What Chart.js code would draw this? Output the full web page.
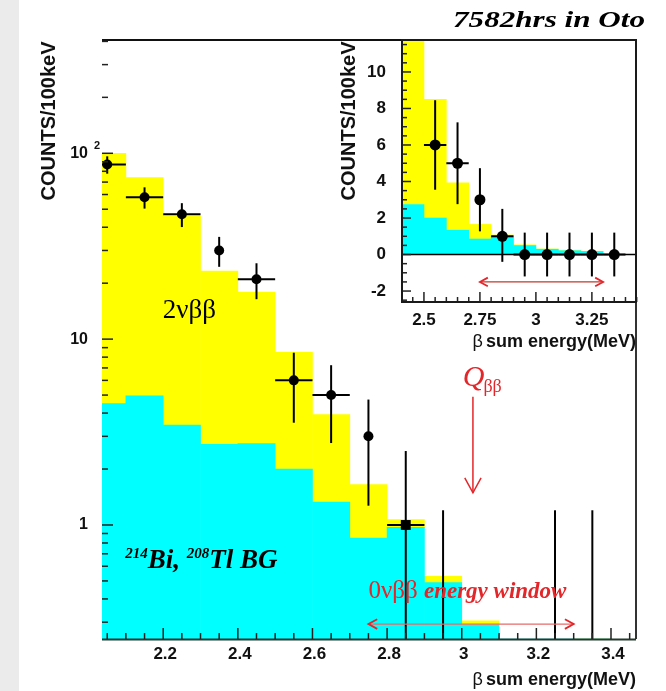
<!DOCTYPE html>
<html>
<head>
<meta charset="utf-8">
<script src="https://cdn.jsdelivr.net/npm/chart.js@4.4.0/dist/chart.umd.min.js"></script>
<style>
  html, body { margin: 0; padding: 0; background: #fff; }
  #wrap { position: relative; width: 666px; height: 691px; background: #fff; overflow: hidden; }
  #strip { position: absolute; left: 0; top: 0; width: 19px; height: 691px; background: #ebebeb; }
  #main { position: absolute; left: 0; top: 0; }
  #inset { position: absolute; left: 336px; top: 32px; }
</style>
</head>
<body>
<div id="wrap">
  <div id="strip"></div>
  <canvas id="main" width="666" height="691"></canvas>
  <canvas id="inset" width="310" height="320"></canvas>
</div>
<script>
// bin centres, 100 keV bins (MeV)
var binCenters = [2.05, 2.15, 2.25, 2.35, 2.45, 2.55, 2.65, 2.75, 2.85, 2.95, 3.05, 3.15, 3.25, 3.35];
// 214Bi + 208Tl background expectation per bin
var bgCounts = [4.5, 4.95, 3.45, 2.72, 2.74, 2.0, 1.33, 0.85, 0.97, 0.49, 0.29, 0.21, 0.17, 0];
// 2vbb expectation, stacked on top of the background
var twoNuCounts = [95.5, 69, 42.5, 20.5, 15.2, 6.5, 2.6, 0.8, 0.1, 0.04, 0.015, 0.01, 0.01, 0];
// observed events
var dataCounts = [87, 58, 47, 30, 21, 6, 5, 3, 1, 0, 0, 0, 0, 0];
var errUp = [9.3, 7.6, 6.9, 5.5, 4.6, 2.45, 2.24, 1.73, 1.5, 1.2, 1.2, 1.2, 1.2, 1.2];
var errDown = [9.3, 7.6, 6.9, 5.5, 4.6, 2.45, 2.24, 1.73, 1.4, 1.2, 1.2, 1.2, 1.2, 1.2];
var errX = [0.05, 0.05, 0.05, 0, 0.05, 0.05, 0.05, 0, 0.05, 0.05, 0.05, 0.05, 0.05, 0.05];
// empty bins whose error bar is not drawn on the log plot
var mainSkipBars = [3.05, 3.15];

var mainXTicks = [2.2, 2.4, 2.6, 2.8, 3.0, 3.2, 3.4];
var mainXLabels = ['2.2', '2.4', '2.6', '2.8', '3', '3.2', '3.4'];
var mainYTicks = [1, 10, 100];
var mainYLabels = ['1', '10', '10'];
var mainYExp = ['', '', '2'];

var insetXTicks = [2.5, 2.75, 3.0, 3.25];
var insetXLabels = ['2.5', '2.75', '3', '3.25'];
var insetYTicks = [-2, 0, 2, 4, 6, 8, 10];
var insetYLabels = ['-2', '0', '2', '4', '6', '8', '10'];

// Q value and 0vbb energy window (MeV)
var qValue = 3.03;
var windowLo = 2.75;
var windowHi = 3.3;

var CYAN = '#00ffff';
var YELLOW = '#ffff00';
var RED = '#e3262a';
var SANS = '"Liberation Sans", Arial, sans-serif';
var SERIF = '"Liberation Serif", "Times New Roman", serif';

function xy(values) {
    return binCenters.map(function (e, i) { return { x: e, y: values[i] }; });
}

function line(ctx, x1, y1, x2, y2) {
    ctx.beginPath();
    ctx.moveTo(x1, y1);
    ctx.lineTo(x2, y2);
    ctx.stroke();
}

// open arrow head pointing along (dx, dy)
function arrowHead(ctx, x, y, dx, dy, size) {
    var a = Math.atan2(dy, dx);
    ctx.beginPath();
    ctx.moveTo(x - size * Math.cos(a - 0.5), y - size * Math.sin(a - 0.5));
    ctx.lineTo(x, y);
    ctx.lineTo(x - size * Math.cos(a + 0.5), y - size * Math.sin(a + 0.5));
    ctx.stroke();
}

function setTicks(values) {
    return function (scale) {
        scale.ticks = values.map(function (v) { return { value: v }; });
    };
}

var errorBars = {
    id: 'errorBars',
    afterDatasetsDraw: function (chart, args, opts) {
        var ctx = chart.ctx, sx = chart.scales.x, sy = chart.scales.y, area = chart.chartArea;
        ctx.save();
        ctx.beginPath();
        ctx.rect(area.left, area.top, area.width, area.height);
        ctx.clip();
        ctx.strokeStyle = '#000';
        ctx.lineWidth = opts.width;
        binCenters.forEach(function (e, i) {
            if (opts.skip.indexOf(e) >= 0) return;
            var v = dataCounts[i];
            var lo = v - errDown[i], hi = v + errUp[i];
            var px = sx.getPixelForValue(e);
            var pLo = (opts.log && lo <= 0) ? area.bottom + 2 : sy.getPixelForValue(lo);
            line(ctx, px, pLo, px, sy.getPixelForValue(hi));
            if (errX[i] > 0 && (v > 0 || !opts.log)) {
                var py = sy.getPixelForValue(v);
                line(ctx, sx.getPixelForValue(e - errX[i]), py, sx.getPixelForValue(e + errX[i]), py);
            }
        });
        ctx.restore();
    }
};

// frame, inward ticks, labels and annotations of the log plot
var mainDecor = {
    id: 'mainDecor',
    afterDraw: function (chart) {
        var ctx = chart.ctx, sx = chart.scales.x, sy = chart.scales.y, a = chart.chartArea;
        ctx.save();
        ctx.lineCap = 'butt';

        ctx.lineWidth = 2;
        ctx.strokeStyle = '#111';
        line(ctx, a.left, a.top, a.right, a.top);
        ctx.strokeStyle = '#333';
        line(ctx, a.right, a.top, a.right, a.bottom);
        ctx.strokeStyle = '#24382f';
        line(ctx, a.left, a.bottom + 0.5, a.right, a.bottom + 0.5);

        // x ticks
        ctx.lineWidth = 1.5;
        ctx.strokeStyle = '#222';
        for (var k = 41; k <= 69; k++) {
            var t = k * 0.05;
            var px = sx.getPixelForValue(t);
            var major = mainXTicks.some(function (m) { return Math.abs(m - t) < 1e-6; });
            line(ctx, px, a.bottom, px, a.bottom - (major ? 11 : 6));
        }
        // y ticks
        [0.1, 1, 10, 100].forEach(function (d) {
            for (var m = 1; m <= 9; m++) {
                var v = m * d;
                if (v < sy.min || v > sy.max) continue;
                var py = sy.getPixelForValue(v);
                line(ctx, a.left, py, a.left + (m === 1 ? 11 : 6), py);
            }
        });

        ctx.fillStyle = '#111';
        ctx.font = 'bold 17px ' + SANS;
        ctx.textAlign = 'center';
        ctx.textBaseline = 'middle';
        mainXTicks.forEach(function (t, i) {
            ctx.fillText(mainXLabels[i], sx.getPixelForValue(t) + 2, a.bottom + 15);
        });
        ctx.textAlign = 'right';
        mainYTicks.forEach(function (t, i) {
            var py = sy.getPixelForValue(t);
            ctx.font = 'bold 16px ' + SANS;
            ctx.fillText(mainYLabels[i], a.left - 14, py);
            if (mainYExp[i]) {
                ctx.font = 'bold 11px ' + SANS;
                ctx.textAlign = 'left';
                ctx.fillText(mainYExp[i], a.left - 8, py - 7);
                ctx.textAlign = 'right';
            }
        });

        // axis titles
        ctx.save();
        ctx.translate(49, a.top + 81);
        ctx.rotate(-Math.PI / 2);
        ctx.textAlign = 'center';
        ctx.font = 'bold 20px ' + SANS;
        ctx.fillText('COUNTS/100keV', 0, 0);
        ctx.restore();

        ctx.textBaseline = 'alphabetic';
        ctx.textAlign = 'right';
        ctx.font = 'bold 18px ' + SANS;
        var rest = 'sum energy(MeV)';
        ctx.fillText(rest, a.right, a.bottom + 46);
        var rw = ctx.measureText(rest).width;
        ctx.font = '18px ' + SANS;
        ctx.fillText('\u03b2', a.right - rw - 3, a.bottom + 46);

        // run title
        ctx.save();
        ctx.font = 'italic bold 24px ' + SERIF;
        ctx.textAlign = 'left';
        var title = '7582hrs in Oto';
        var tw = ctx.measureText(title).width;
        ctx.translate(453, 27);
        ctx.scale(192 / tw, 1);
        ctx.fillStyle = '#000';
        ctx.fillText(title, 0, 0);
        ctx.restore();

        // component labels
        ctx.fillStyle = '#000';
        ctx.textAlign = 'center';
        ctx.font = '27px ' + SERIF;
        ctx.fillText('2\u03bd\u03b2\u03b2', sx.getPixelForValue(2.27), sy.getPixelForValue(13));

        ctx.textAlign = 'left';
        var bx = sx.getPixelForValue(2.098), by = sy.getPixelForValue(0.587);
        [['214', true], ['Bi, ', false], ['208', true], ['Tl BG', false]].forEach(function (p) {
            ctx.font = 'italic bold ' + (p[1] ? '15px ' : '27px ') + SERIF;
            ctx.fillText(p[0], bx, p[1] ? by - 10 : by);
            bx += ctx.measureText(p[0]).width;
        });

        // Q value arrow
        ctx.fillStyle = RED;
        ctx.strokeStyle = RED;
        var qx = sx.getPixelForValue(qValue);
        ctx.font = 'italic 30px ' + SERIF;
        ctx.fillText('Q', sx.getPixelForValue(3.003), sy.getPixelForValue(5.6));
        ctx.font = '18px ' + SERIF;
        ctx.fillText('\u03b2\u03b2', sx.getPixelForValue(3.058), sy.getPixelForValue(5.2));
        ctx.lineWidth = 1.5;
        var qTop = sy.getPixelForValue(4.9), qBot = sy.getPixelForValue(1.49);
        line(ctx, qx, qTop, qx, qBot);
        arrowHead(ctx, qx, qBot, 0, 1, 17);

        // 0vbb energy window
        var wx = sx.getPixelForValue(windowLo), wy = sy.getPixelForValue(0.405);
        ctx.font = '25px ' + SERIF;
        ctx.fillText('0\u03bd\u03b2\u03b2', wx, wy);
        var w0 = ctx.measureText('0\u03bd\u03b2\u03b2 ').width;
        ctx.font = 'italic bold 23px ' + SERIF;
        ctx.fillText('energy window', wx + w0, wy);

        var ay = sy.getPixelForValue(0.293);
        var ax1 = sx.getPixelForValue(windowLo), ax2 = sx.getPixelForValue(windowHi);
        ctx.strokeStyle = '#e86a6a';
        ctx.lineWidth = 1.2;
        line(ctx, ax1, ay, ax2, ay);
        ctx.strokeStyle = RED;
        ctx.lineWidth = 1.8;
        arrowHead(ctx, ax1, ay, -1, 0, 10);
        arrowHead(ctx, ax2, ay, 1, 0, 10);
        ctx.restore();
    }
};

// white pad, frame, ticks and labels of the linear inset
var insetDecor = {
    id: 'insetDecor',
    beforeDraw: function (chart) {
        var ctx = chart.ctx, a = chart.chartArea;
        ctx.save();
        ctx.fillStyle = '#fff';
        ctx.fillRect(a.left, a.top, a.width, a.height);
        ctx.restore();
    },
    afterDraw: function (chart) {
        var ctx = chart.ctx, sx = chart.scales.x, sy = chart.scales.y, a = chart.chartArea;
        ctx.save();
        ctx.strokeStyle = '#000';
        ctx.lineWidth = 1.5;
        var y0 = sy.getPixelForValue(0);
        line(ctx, a.left, y0, a.right, y0);

        ctx.strokeStyle = '#222';
        ctx.lineWidth = 1.5;
        for (var k = 49; k <= 69; k++) {
            var t = k * 0.05;
            var px = sx.getPixelForValue(t);
            var major = insetXTicks.some(function (m) { return Math.abs(m - t) < 1e-6; });
            line(ctx, px, a.bottom, px, a.bottom - (major ? 10 : 5));
        }
        for (var j = -5; j <= 23; j++) {
            var v = j * 0.5;
            var py = sy.getPixelForValue(v);
            line(ctx, a.left, py, a.left + (j % 4 === 0 ? 9 : 5), py);
        }

        ctx.lineWidth = 2;
        ctx.strokeStyle = '#1a1a1a';
        ctx.strokeRect(a.left, a.top, a.width, a.height);

        ctx.fillStyle = '#111';
        ctx.font = 'bold 17px ' + SANS;
        ctx.textAlign = 'center';
        ctx.textBaseline = 'middle';
        insetXTicks.forEach(function (t, i) {
            ctx.fillText(insetXLabels[i], sx.getPixelForValue(t), a.bottom + 18);
        });
        ctx.textAlign = 'right';
        insetYTicks.forEach(function (t, i) {
            ctx.fillText(insetYLabels[i], a.left - 16, sy.getPixelForValue(t));
        });

        ctx.save();
        ctx.translate(13, a.top + 81);
        ctx.rotate(-Math.PI / 2);
        ctx.textAlign = 'center';
        ctx.font = 'bold 20px ' + SANS;
        ctx.fillText('COUNTS/100keV', 0, 0);
        ctx.restore();

        ctx.textBaseline = 'alphabetic';
        ctx.textAlign = 'right';
        ctx.font = 'bold 18px ' + SANS;
        var rest = 'sum energy(MeV)';
        ctx.fillText(rest, a.right, a.bottom + 45);
        var rw = ctx.measureText(rest).width;
        ctx.font = '18px ' + SANS;
        ctx.fillText('\u03b2', a.right - rw - 3, a.bottom + 45);

        // energy window
        var ay = sy.getPixelForValue(-1.5);
        var ax1 = sx.getPixelForValue(windowLo), ax2 = sx.getPixelForValue(windowHi);
        ctx.strokeStyle = '#c0392b';
        ctx.lineWidth = 1.2;
        line(ctx, ax1, ay, ax2, ay);
        ctx.strokeStyle = RED;
        ctx.lineWidth = 1.8;
        arrowHead(ctx, ax1, ay, -1, 0, 9);
        arrowHead(ctx, ax2, ay, 1, 0, 9);
        ctx.restore();
    }
};

function histDatasets() {
    return [
        {
            type: 'bar', label: 'BG', data: xy(bgCounts), backgroundColor: CYAN,
            stack: 'mc', order: 1, barPercentage: 1, categoryPercentage: 1, borderWidth: 0
        },
        {
            type: 'bar', label: '2vbb', data: xy(twoNuCounts), backgroundColor: YELLOW,
            stack: 'mc', order: 2, barPercentage: 1, categoryPercentage: 1, borderWidth: 0
        }
    ];
}

var mainPoints = binCenters.map(function (e, i) {
    return { x: e, y: dataCounts[i] > 0 ? dataCounts[i] : null };
});
var mainPointStyle = dataCounts.map(function (v, i) { return i === 8 ? 'rect' : 'circle'; });
var mainPointRadius = dataCounts.map(function (v, i) { return i === 8 ? 7 : 5; });

var mainChart = new Chart(document.getElementById('main'), {
    type: 'bar',
    data: {
        datasets: [{
            type: 'scatter', label: 'data', data: mainPoints, order: 0,
            pointStyle: mainPointStyle, pointRadius: mainPointRadius,
            backgroundColor: '#000', borderColor: '#000', borderWidth: 0
        }].concat(histDatasets())
    },
    options: {
        responsive: false,
        animation: false,
        devicePixelRatio: 1,
        layout: { padding: { left: 102, right: 30, top: 40, bottom: 52 } },
        plugins: {
            legend: { display: false },
            tooltip: { enabled: false },
            errorBars: { width: 2, log: true, skip: mainSkipBars }
        },
        scales: {
            x: { type: 'linear', display: false, offset: false, min: 2.036, max: 3.467, stacked: true, afterBuildTicks: setTicks(mainXTicks) },
            y: { type: 'logarithmic', display: false, min: 0.2435, max: 407, stacked: true }
        }
    },
    plugins: [errorBars, mainDecor]
});

var insetChart = new Chart(document.getElementById('inset'), {
    type: 'bar',
    data: {
        datasets: [{
            type: 'scatter', label: 'data', data: xy(dataCounts), order: 0,
            pointRadius: 5.5, backgroundColor: '#000', borderColor: '#000', borderWidth: 0
        }].concat(histDatasets())
    },
    options: {
        responsive: false,
        animation: false,
        devicePixelRatio: 1,
        layout: { padding: { left: 66, right: 10, top: 8, bottom: 50 } },
        plugins: {
            legend: { display: false },
            tooltip: { enabled: false },
            errorBars: { width: 2, log: false, skip: [] }
        },
        scales: {
            x: { type: 'linear', display: false, offset: false, min: 2.402, max: 3.447, stacked: true, afterBuildTicks: setTicks(insetXTicks) },
            y: { type: 'linear', display: false, min: -2.6, max: 11.75, stacked: true }
        }
    },
    plugins: [insetDecor, errorBars]
});
</script>
</body>
</html>
